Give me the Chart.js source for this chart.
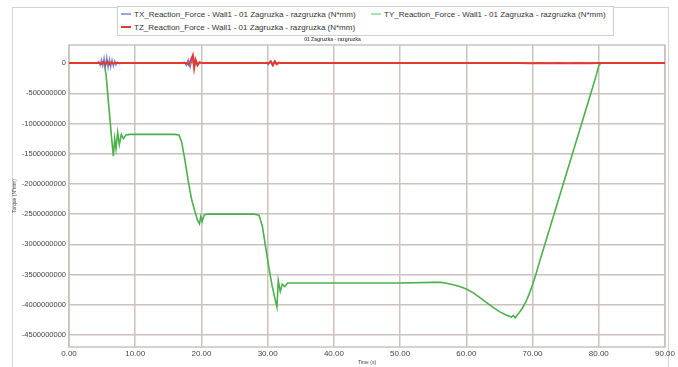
<!DOCTYPE html>
<html>
<head>
<meta charset="utf-8">
<script src="https://cdn.jsdelivr.net/npm/chart.js@4/dist/chart.umd.min.js"></script>
<style>
html,body{margin:0;padding:0;background:#fff;}
#wrap{position:relative;width:678px;height:367px;overflow:hidden;font-family:"Liberation Sans",Arial,sans-serif;}
#frame{position:absolute;left:12px;top:7px;width:655px;height:380px;border:1px solid #d6d2d0;}
#legend{position:absolute;left:117px;top:6px;width:495px;height:28px;border:1px solid #cfcfcf;background:#fff;font-size:8px;color:#333;}
.item{position:absolute;white-space:nowrap;line-height:10px;}
.swatch{display:inline-block;width:10px;height:2px;vertical-align:middle;margin-right:3px;position:relative;top:-1px;}
canvas{position:absolute;left:0;top:0;}
</style>
</head>
<body>
<div id="wrap">
<div id="frame"></div>
<canvas id="c" width="678" height="367"></canvas>
<div id="legend"></div>
</div>
<script>
// ---- data ----
const seriesNames = [
  "TX_Reaction_Force - Wall1 - 01 Zagruzka - razgruzka (N*mm)",
  "TY_Reaction_Force - Wall1 - 01 Zagruzka - razgruzka (N*mm)",
  "TZ_Reaction_Force - Wall1 - 01 Zagruzka - razgruzka (N*mm)"
];
const chartTitle = "01 Zagruzka - razgruzka";
const xAxisTitle = "Time (s)";
const yAxisTitle = "Torque (N*mm)";
const xTickValues = [0, 10, 20, 30, 40, 50, 60, 70, 80, 90];
const yTickValues = [0, -500000000, -1000000000, -1500000000, -2000000000, -2500000000, -3000000000, -3500000000, -4000000000, -4500000000];

const tyTime = [0, 4.8, 5.0, 5.3, 5.6, 6.0, 6.4, 6.7, 6.9, 7.1, 7.35, 7.6, 7.9, 8.2, 8.6, 9.2, 10, 12, 14, 16, 16.6, 17.0, 17.5, 18.0, 18.5, 19.0, 19.4, 19.7, 19.9, 20.1, 20.4, 20.8, 22, 25, 28, 28.7, 29.2, 29.7, 30.2, 30.7, 31.1, 31.4, 31.6, 31.9, 32.2, 32.6, 33.0, 35, 40, 45, 50, 55, 56.2, 57, 58, 59, 60, 61, 62, 63, 64, 65, 66, 66.8, 67.1, 67.4, 67.7, 68.0, 68.5, 69.0, 69.5, 70.0, 70.5, 71.0, 72.0, 73.0, 74.0, 75.0, 76.0, 77.0, 78.0, 79.0, 79.7, 80.0, 80.3, 85, 90];
const tyValue = [0, 0, -20e6, 10e6, -200e6, -700e6, -1200e6, -1540e6, -1250e6, -1420e6, -1150e6, -1350e6, -1180e6, -1250e6, -1190e6, -1180e6, -1180e6, -1180e6, -1180e6, -1180e6, -1190e6, -1300e6, -1600e6, -1950e6, -2250e6, -2450e6, -2600e6, -2660e6, -2540e6, -2620e6, -2520e6, -2500e6, -2500e6, -2500e6, -2500e6, -2520e6, -2700e6, -3050e6, -3400e6, -3700e6, -3900e6, -4040e6, -3600e6, -3780e6, -3660e6, -3700e6, -3640e6, -3640e6, -3640e6, -3640e6, -3640e6, -3630e6, -3630e6, -3645e6, -3670e6, -3700e6, -3740e6, -3800e6, -3880e6, -3960e6, -4040e6, -4115e6, -4170e6, -4205e6, -4180e6, -4215e6, -4170e6, -4130e6, -4050e6, -3950e6, -3820e6, -3670e6, -3500e6, -3310e6, -2950e6, -2590e6, -2230e6, -1870e6, -1510e6, -1150e6, -790e6, -430e6, -170e6, -40e6, 0, 0, 0];

const txTime = [0, 4.2, 4.5, 4.7, 4.9, 5.1, 5.3, 5.5, 5.7, 5.9, 6.1, 6.3, 6.5, 6.7, 6.9, 7.1, 7.3, 7.6, 8.0, 17.0, 17.4, 17.7, 18.0, 18.3, 18.6, 18.9, 19.2, 19.5, 19.8, 20.2, 29.5, 29.8, 30.1, 30.4, 30.7, 31.0, 31.3, 31.6, 32.0, 66.0, 67.0, 68.0, 69.0, 70.0, 71.0, 72.0, 73.0, 90];
const txValue = [0, 0, 30e6, -40e6, 60e6, -50e6, 90e6, -60e6, 100e6, -80e6, 70e6, -70e6, 60e6, -50e6, 40e6, -30e6, 20e6, -10e6, 0, 0, 20e6, -40e6, 60e6, -70e6, 80e6, -60e6, 40e6, -30e6, 15e6, 0, 0, 15e6, -30e6, 40e6, -40e6, 30e6, -20e6, 10e6, 0, 0, 6e6, -6e6, 6e6, -6e6, 5e6, -5e6, 0, 0];

const tzTime = [0, 4.6, 4.9, 5.2, 5.5, 5.8, 6.1, 6.4, 6.7, 7.0, 7.4, 17.8, 18.1, 18.4, 18.7, 18.9, 19.1, 19.4, 19.7, 20.0, 30.2, 30.5, 30.8, 31.1, 31.4, 31.7, 32.0, 66.5, 68.0, 69.5, 71.0, 72.5, 74.0, 75.5, 77.0, 78.5, 80.0, 90];
const tzValue = [0, 0, -15e6, 20e6, -25e6, 25e6, -20e6, 15e6, -10e6, 5e6, 0, 0, -30e6, 50e6, 130e6, -80e6, 60e6, -35e6, 15e6, 0, 0, 25e6, -35e6, 30e6, -20e6, 10e6, 0, 0, 4e6, -4e6, 4e6, -4e6, 4e6, -4e6, 3e6, -3e6, 0, 0];

// ---- styles ----
const lineColors = ["#6f7fd8", "#4cb04c", "#e23a2e"];
const legendColors = ["#98a4e0", "#a8e0b0", "#e23a2e"];
const gridColor = "#cbc2be";

function pts(t, v){ return t.map((x, i) => ({x: x, y: v[i]})); }

// HTML legend
const leg = document.getElementById('legend');
const legPos = [[3, 3], [253, 3], [3, 16]];
seriesNames.forEach((n, i) => {
  const d = document.createElement('div');
  d.className = 'item';
  d.style.left = legPos[i][0] + 'px';
  d.style.top = legPos[i][1] + 'px';
  d.innerHTML = '<span class="swatch" style="background:' + legendColors[i] + '"></span>' + n;
  leg.appendChild(d);
});

const framePlugin = {
  id: 'frameBox',
  beforeDatasetsDraw(chart){
    const a = chart.chartArea, ctx = chart.ctx;
    ctx.save();
    ctx.strokeStyle = gridColor;
    ctx.lineWidth = 1.5;
    ctx.strokeRect(a.left, a.top, a.right - a.left, a.bottom - a.top);
    ctx.restore();
  }
};

new Chart(document.getElementById('c'), {
  type: 'line',
  data: {
    datasets: [
      {label: seriesNames[2], data: pts(tzTime, tzValue), borderColor: lineColors[2], borderWidth: 2, order: 0},
      {label: seriesNames[0], data: pts(txTime, txValue), borderColor: lineColors[0], borderWidth: 1.2, order: 1},
      {label: seriesNames[1], data: pts(tyTime, tyValue), borderColor: lineColors[1], borderWidth: 1.6, order: 2}
    ]
  },
  options: {
    responsive: false,
    animation: false,
    events: [],
    elements: {point: {radius: 0}, line: {tension: 0}},
    layout: {padding: {left: 0, right: 13, top: 37, bottom: 0}},
    plugins: {
      legend: {display: false},
      tooltip: {enabled: false},
      title: {display: true, text: chartTitle, color: '#555', font: {family: 'Liberation Sans', size: 5}, padding: {top: 0, bottom: 2}}
    },
    scales: {
      x: {
        type: 'linear', min: 0, max: 90,
        afterFit(s){ s.height = 20; },
        afterBuildTicks(s){ s.ticks = xTickValues.map(v => ({value: v})); },
        grid: {color: gridColor, lineWidth: 1.5, drawTicks: false},
        border: {display: false},
        ticks: {padding: 2, color: '#444', font: {family: 'Liberation Sans', size: 8}, callback: v => Number(v).toFixed(2), maxRotation: 0},
        title: {display: true, text: xAxisTitle, color: '#444', font: {family: 'Liberation Sans', size: 5}, padding: {top: 0, bottom: 1}}
      },
      y: {
        type: 'linear', min: -4700000000, max: 300000000,
        afterFit(s){ s.width = 69; },
        afterBuildTicks(s){ s.ticks = yTickValues.map(v => ({value: v})); },
        grid: {color: gridColor, lineWidth: 1.5, drawTicks: false},
        border: {display: false},
        ticks: {padding: 3, color: '#444', font: {family: 'Liberation Sans', size: 7.5}, callback: v => String(Math.round(v))},
        title: {display: true, text: yAxisTitle, color: '#444', font: {family: 'Liberation Sans', size: 5}, padding: {top: 12, bottom: 0}}
      }
    }
  },
  plugins: [framePlugin]
});
</script>
</body>
</html>
